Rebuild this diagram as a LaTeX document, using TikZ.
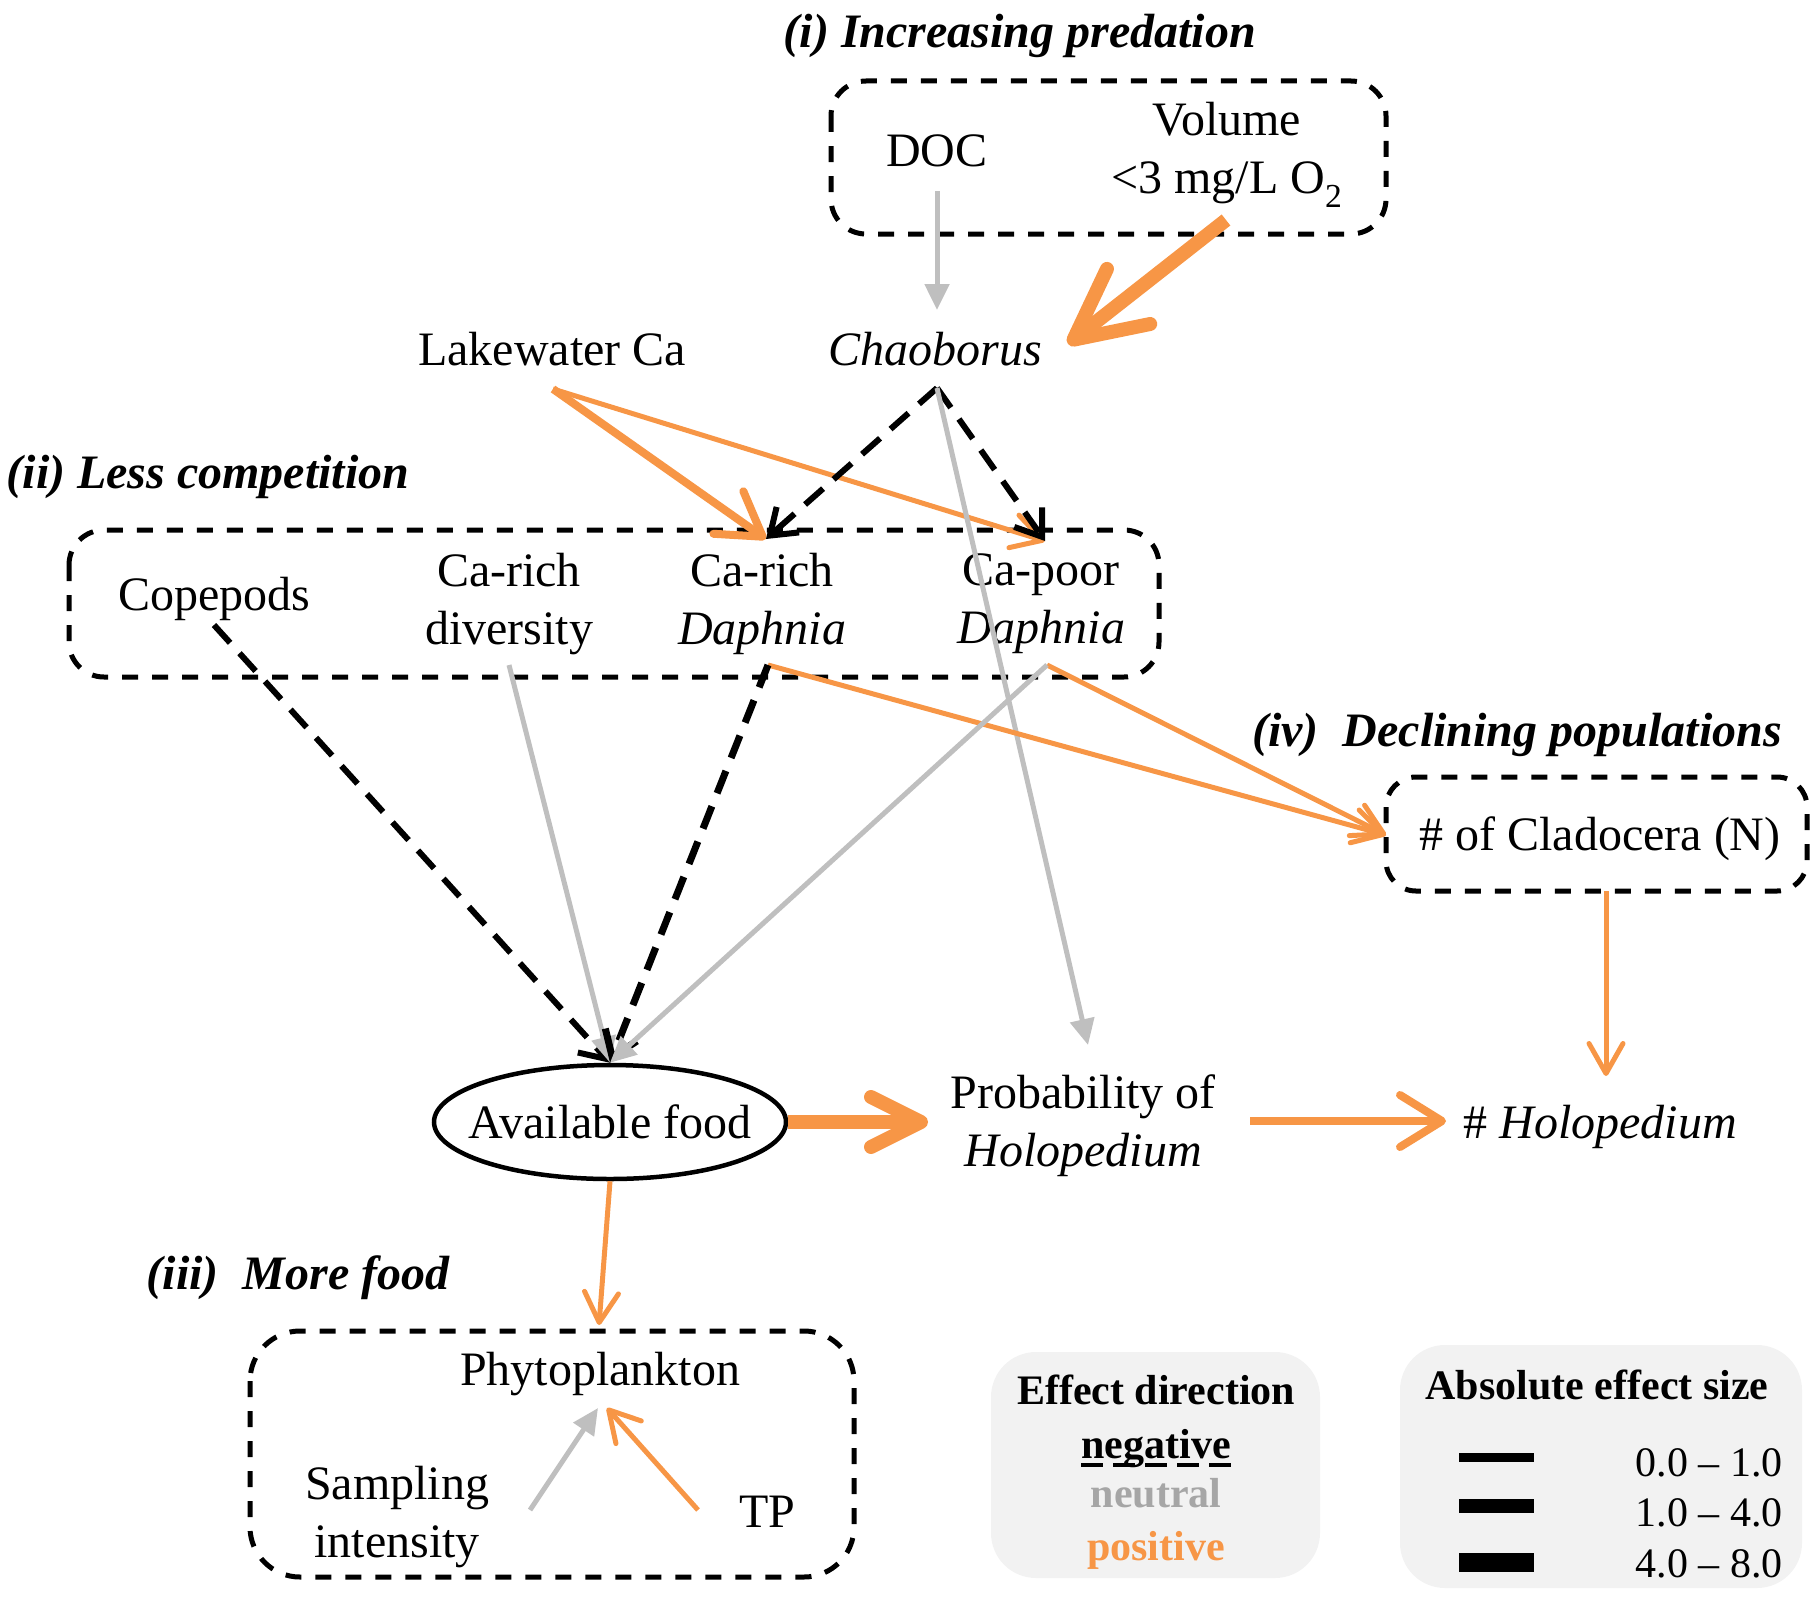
\documentclass[tikz,border=0pt]{standalone}
\usepackage{fontspec}
\setmainfont{Liberation Serif}
\usetikzlibrary{arrows.meta,shapes.geometric,calc}
\definecolor{pos}{HTML}{F79646}
\definecolor{neu}{HTML}{BFBFBF}
\definecolor{neutxt}{HTML}{A6A6A6}
\definecolor{legbg}{HTML}{F2F2F2}
\begin{document}
\begin{tikzpicture}[x=1pt,y=-1pt,
  lbl/.style={font=\fontsize{48}{58}\selectfont, inner sep=0pt, align=center},
  one/.style={text height=37pt, text depth=5pt},
  ttl/.style={font=\fontsize{48}{58}\selectfont\bfseries\itshape, inner sep=0pt, text height=37pt, text depth=5pt},
  leg/.style={font=\fontsize{42}{50}\selectfont, inner sep=0pt, text height=32pt, text depth=4pt},
  grp/.style={draw=black, line width=5pt, dash pattern=on 16pt off 14pt, rounded corners=#1},
  legbox/.style={fill=legbg, draw=none, rounded corners=45pt},
  pthin/.style={draw=pos, line width=5pt, -{Straight Barb[length=30pt,width=34pt,round]}},
  pmed/.style={draw=pos, line width=8pt, -{Straight Barb[length=42pt,width=52pt,round]}},
  pbig/.style={draw=pos, line width=14pt, -{Straight Barb[length=#1,width=#1,round]}},
  neut/.style={draw=neu, line width=5pt, -{Triangle[length=26pt,width=24pt]}},
  negd/.style={draw=black, line width=#1, dash pattern=on 24pt off 14pt, -{Straight Barb[length=24pt,width=34pt]}},
  bar/.style={fill=black, draw=none}
]
\useasboundingbox (0,0) rectangle (1814,1600);

% group boxes
\draw[grp=35pt] (831,81) rectangle (1386,234);
\draw[grp=35pt] (69,530) rectangle (1159,677);
\draw[grp=30pt] (1386,777) rectangle (1807,891);
\draw[grp=50pt] (250,1331) rectangle (854,1577);

% titles
\node[ttl] (tI) at (1020,32) {(i) Increasing predation};
\node[ttl] (tII) at (208,472) {(ii) Less competition};
\node[ttl] (tIV) at (1517,730) {(iv)\ \ Declining populations};
\node[ttl] (tIII) at (298,1273) {(iii)\ \ More food};

% nodes
\node[lbl,one] (doc) at (937,150) {DOC};
\node[lbl] (vol) at (1227,155) {Volume\\<3 mg/L O\textsubscript{2}};
\node[lbl,one] (chao) at (935,349) {\itshape Chaoborus};
\node[lbl,one] (lake) at (552,349) {Lakewater Ca};
\node[lbl,one] (cope) at (214,594) {Copepods};
\node[lbl] (crdiv) at (509,604) {Ca-rich\\diversity};
\node[lbl] (crdaph) at (762,604) {Ca-rich\\\textit{Daphnia}};
\node[lbl] (cpdaph) at (1041,604) {Ca-poor\\\textit{Daphnia}};
\node[lbl,one] (clad) at (1600,834) {\# of Cladocera (N)};
\node[lbl,one,draw=black,line width=4.5pt,ellipse,inner xsep=-19pt,inner ysep=0pt,minimum width=352pt,minimum height=114pt] (avail) at (610,1122) {Available food};
\node[lbl] (prob) at (1083,1126) {Probability of\\\textit{Holopedium}};
\node[lbl,one] (hol) at (1600,1122) {\# \textit{Holopedium}};
\node[lbl,one] (phyto) at (600,1369) {Phytoplankton};
\node[lbl] (samp) at (397,1517) {Sampling\\intensity};
\node[lbl,one] (tp) at (767,1511) {TP};

% connectors
\draw[neut] ($(doc)+(0,41)$) -- ($(chao)+(2,-39)$);
\draw[pbig=70pt] ($(vol)+(-1,65)$) -- ($(chao)+(133,-5)$);
\draw[pmed] ($(lake)+(1,40)$) -- ($(crdaph)+(4,-65)$);
\draw[pthin] ($(lake)+(1,40)$) -- ($(cpdaph)+(4,-63)$);
\draw[negd=6pt] ($(chao)+(2,39)$) -- ($(crdaph)+(4,-65)$);
\draw[negd=6pt] ($(chao)+(2,39)$) -- ($(cpdaph)+(4,-63)$);
\draw[neut] ($(chao)+(2,39)$) -- ($(prob)+(5,-81)$);
\draw[pthin] ($(crdaph)+(6,61)$) -- ($(clad)+(-214,1)$);
\draw[pthin] ($(cpdaph)+(6,61)$) -- ($(clad)+(-214,1)$);
\draw[negd=6pt] ($(cope)+(0,31)$) -- (avail.north);
\draw[neut] ($(crdiv)+(0,61)$) -- (avail.north);
\draw[negd=7pt] ($(crdaph)+(6,61)$) -- (avail.north);
\draw[neut] ($(cpdaph)+(6,61)$) -- (avail.north);
\draw[pbig=50pt] (avail.east) -- ($(prob)+(-155,-4)$);
\draw[pmed] ($(prob)+(167,-5)$) -- ($(hol)+(-154,-1)$);
\draw[pthin] ($(clad)+(6,57)$) -- ($(hol)+(6,-46)$);
\draw[pthin] (avail.south) -- ($(phyto)+(-1,-44)$);
\draw[neut] ($(samp)+(133,-7)$) -- ($(phyto)+(-2,39)$);
\draw[pthin] ($(tp)+(-69,-1)$) -- ($(phyto)+(7,39)$);

% legend 1
\fill[legbox] (991,1352) rectangle (1320,1578);
\node[leg,font=\fontsize{42}{50}\selectfont\bfseries] (ledir) at (1156,1390) {Effect direction};
\node[leg,font=\fontsize{42}{50}\selectfont\bfseries] (lneg) at (1156,1444) {negative};
\draw[black, line width=4pt, dash pattern=on 22pt off 10pt] ($(lneg.south west)+(0,3)$) -- ($(lneg.south east)+(0,3)$);
\node[leg,font=\fontsize{42}{50}\selectfont\bfseries,text=neutxt] (lneu) at (1156,1493) {neutral};
\node[leg,font=\fontsize{42}{50}\selectfont\bfseries,text=pos] (lpos) at (1156,1546) {positive};

% legend 2
\fill[legbox] (1400,1345) rectangle (1802,1588);
\node[leg,font=\fontsize{42}{50}\selectfont\bfseries] (lsize) at (1597,1385) {Absolute effect size};
\fill[bar] (1459,1452.5) rectangle (1534,1461.5);
\fill[bar] (1459,1499) rectangle (1534,1513);
\fill[bar] (1459,1552.5) rectangle (1534,1571.5);
\node[leg,anchor=east] (l1) at (1783,1462) {0.0 -- 1.0};
\node[leg,anchor=east] (l2) at (1783,1512) {1.0 -- 4.0};
\node[leg,anchor=east] (l3) at (1783,1563) {4.0 -- 8.0};
\end{tikzpicture}
\end{document}
